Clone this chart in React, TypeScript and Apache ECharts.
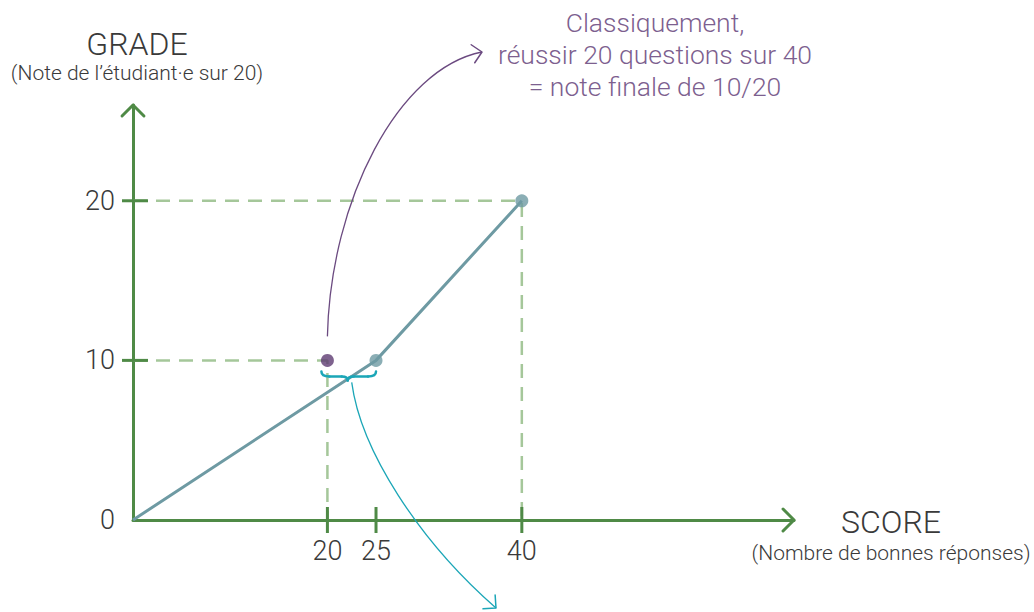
import React, { useEffect, useRef } from "react";
import * as echarts from "echarts";

// ---- data ----
const xTickValues = [20, 25, 40];
const yTickValues = [0, 10, 20];
const gradeCurve = [[0, 0], [25, 10], [40, 20]];
const gradePoints = [[25, 10], [40, 20]];
const classicPoint = [[20, 10]];
const guide20 = [[0, 20], [40, 20], [40, 0]];
const guide10 = [[0, 10], [20, 10], [20, 0]];
const xMax = 68;
const yMax = 26;
const yTitle = "GRADE";
const ySubtitle = "(Note de l\u2019étudiant\u00b7e sur 20)";
const xTitle = "SCORE";
const xSubtitle = "(Nombre de bonnes réponses)";
const noteLines = ["Classiquement,", "réussir 20 questions sur 40", "= note finale de 10/20"];

// ---- styles ----
const GREEN = "#4f8a46";
const GUIDE = "#a5c79a";
const TEAL = "#6e9aa3";
const PURPLE = "#5e3b72";
const PURPLE_LINE = "#6b4a80";
const PURPLE_TEXT = "#7d5f8f";
const CYAN = "#1ba6b7";
const TEXT = "#3a3a3a";
const FONT = "Roboto";

function arrowHead(tip: number[], dir: number[], len: number, color: string, width: number) {
  const n = Math.hypot(dir[0], dir[1]);
  const dx = dir[0] / n, dy = dir[1] / n;
  const a = Math.PI / 4;
  const rot = (t: number) => [dx * Math.cos(t) - dy * Math.sin(t), dx * Math.sin(t) + dy * Math.cos(t)];
  const r1 = rot(a), r2 = rot(-a);
  return {
    type: "polyline",
    shape: {
      points: [
        [tip[0] - len * r1[0], tip[1] - len * r1[1]],
        [tip[0], tip[1]],
        [tip[0] - len * r2[0], tip[1] - len * r2[1]],
      ],
    },
    style: { stroke: color, lineWidth: width, fill: null, lineCap: "round", lineJoin: "round" },
    z: 20,
  };
}

export default function App() {
  const ref = useRef<HTMLDivElement>(null);
  useEffect(() => {
    if (!ref.current) return;
    const chart = echarts.init(ref.current, null, { renderer: "svg" });
    const dashed = (data: number[][]) => ({
      type: "line",
      data,
      symbol: "none",
      lineStyle: { color: GUIDE, width: 2.5, type: [14, 9] },
      z: 1,
      silent: true,
    });
    chart.setOption({
      animation: false,
      grid: { left: 133, top: 105, width: 661, height: 415 },
      xAxis: {
        type: "value",
        min: 0,
        max: xMax,
        interval: 5,
        splitLine: { show: false },
        axisTick: { show: false },
        axisLine: { show: true, lineStyle: { color: GREEN, width: 3 } },
        axisLabel: {
          margin: 17,
          color: TEXT,
          fontFamily: FONT,
          fontWeight: 300,
          fontSize: 27,
          showMaxLabel: false,
          formatter: (v: number) => (xTickValues.includes(v) ? String(v) : ""),
        },
      },
      yAxis: {
        type: "value",
        min: 0,
        max: yMax,
        interval: 10,
        splitLine: { show: false },
        axisTick: { show: false },
        axisLine: { show: true, lineStyle: { color: GREEN, width: 3 } },
        axisLabel: {
          margin: 18,
          color: TEXT,
          fontFamily: FONT,
          fontWeight: 300,
          fontSize: 27,
          showMaxLabel: false,
          formatter: (v: number) => (yTickValues.includes(v) ? String(v) : ""),
        },
      },
      series: [
        dashed(guide20),
        dashed(guide10),
        {
          type: "custom",
          clip: false,
          z: 4,
          data: xTickValues.map((v) => [v, 0]),
          renderItem: (_p: any, api: any) => {
            const p = api.coord([api.value(0), api.value(1)]);
            return {
              type: "line",
              shape: { x1: p[0], y1: p[1] - 13, x2: p[0], y2: p[1] + 13 },
              style: { stroke: GREEN, lineWidth: 3 },
            };
          },
        },
        {
          type: "custom",
          clip: false,
          z: 4,
          data: yTickValues.filter((v) => v > 0).map((v) => [0, v]),
          renderItem: (_p: any, api: any) => {
            const p = api.coord([api.value(0), api.value(1)]);
            return {
              type: "line",
              shape: { x1: p[0] - 11, y1: p[1], x2: p[0] + 15, y2: p[1] },
              style: { stroke: GREEN, lineWidth: 3 },
            };
          },
        },
        {
          type: "line",
          data: gradeCurve,
          symbol: "none",
          lineStyle: { color: TEAL, width: 3 },
          z: 5,
        },
        {
          type: "scatter",
          data: gradePoints,
          symbolSize: 13,
          itemStyle: { color: TEAL },
          z: 6,
        },
        {
          type: "scatter",
          data: classicPoint,
          symbolSize: 13,
          itemStyle: { color: PURPLE },
          z: 6,
        },
      ],
    });

    const px = (v: number[]) => chart.convertToPixel({ gridIndex: 0 }, v) as number[];
    const xEnd = px([xMax, 0]);
    const yEnd = px([0, yMax]);
    const pA = px(classicPoint[0]);
    const pB = px(gradePoints[0]);

    // brace under the two points
    const bl = pA[0] - 6, br = pB[0];
    const bTop = pA[1] + 11, bMid = pA[1] + 16, bTip = pA[1] + 20;
    const bc = (bl + br) / 2 - 1;
    const braceStyle = { stroke: CYAN, lineWidth: 2.5, fill: null, lineCap: "round" };
    const brace = [
      { type: "bezierCurve", shape: { x1: bl, y1: bTop, cpx1: bl, cpy1: bMid, x2: bl + 8, y2: bMid } },
      { type: "line", shape: { x1: bl + 8, y1: bMid, x2: bc - 6, y2: bMid } },
      { type: "bezierCurve", shape: { x1: bc - 6, y1: bMid, cpx1: bc, cpy1: bMid, x2: bc, y2: bTip } },
      { type: "bezierCurve", shape: { x1: bc, y1: bTip, cpx1: bc, cpy1: bMid, x2: bc + 6, y2: bMid } },
      { type: "line", shape: { x1: bc + 6, y1: bMid, x2: br - 8, y2: bMid } },
      { type: "bezierCurve", shape: { x1: br - 8, y1: bMid, cpx1: br, cpy1: bMid, x2: br, y2: bTop } },
    ].map((e) => ({ ...e, style: braceStyle, z: 20 }));

    // purple annotation curve
    const ps = [pA[0], pA[1] - 24];
    const pc1 = [ps[0] + 3, ps[1] - 136];
    const pc2 = [ps[0] + 71, ps[1] - 268];
    const pe = [482, 52];
    // cyan annotation curve
    const cs = [bc + 4, bTip + 2];
    const cc1 = [cs[0] + 9, cs[1] + 68];
    const cc2 = [cs[0] + 67, cs[1] + 158];
    const ce = [496, 608];

    const graphic: any[] = [
      arrowHead([xEnd[0], xEnd[1]], [1, 0], 15.5, GREEN, 3),
      arrowHead([yEnd[0], yEnd[1]], [0, -1], 15.5, GREEN, 3),
      ...brace,
      {
        type: "bezierCurve",
        shape: { x1: ps[0], y1: ps[1], cpx1: pc1[0], cpy1: pc1[1], cpx2: pc2[0], cpy2: pc2[1], x2: pe[0], y2: pe[1] },
        style: { stroke: PURPLE_LINE, lineWidth: 1.3, fill: null },
        z: 20,
      },
      arrowHead(pe, [pe[0] - pc2[0], pe[1] - pc2[1]], 13, PURPLE_LINE, 1.5),
      {
        type: "bezierCurve",
        shape: { x1: cs[0], y1: cs[1], cpx1: cc1[0], cpy1: cc1[1], cpx2: cc2[0], cpy2: cc2[1], x2: ce[0], y2: ce[1] },
        style: { stroke: CYAN, lineWidth: 1.3, fill: null },
        z: 20,
      },
      arrowHead(ce, [ce[0] - cc2[0], ce[1] - cc2[1]], 13, CYAN, 1.5),
      {
        type: "text",
        x: 137,
        y: 44,
        style: { text: yTitle, fill: TEXT, font: `300 32px ${FONT}`, align: "center", verticalAlign: "middle" },
      },
      {
        type: "text",
        x: 137,
        y: 73,
        style: { text: ySubtitle, fill: TEXT, font: `300 21px ${FONT}`, align: "center", verticalAlign: "middle" },
      },
      {
        type: "text",
        x: 891,
        y: 522,
        style: { text: xTitle, fill: TEXT, font: `300 32px ${FONT}`, align: "center", verticalAlign: "middle" },
      },
      {
        type: "text",
        x: 891,
        y: 553,
        style: { text: xSubtitle, fill: TEXT, font: `300 21px ${FONT}`, align: "center", verticalAlign: "middle" },
      },
      ...noteLines.map((t, i) => ({
        type: "text",
        x: 655,
        y: 22 + i * 32,
        style: { text: t, fill: PURPLE_TEXT, font: `300 26.5px ${FONT}`, align: "center", verticalAlign: "middle" },
      })),
    ];
    chart.setOption({ graphic });

    return () => chart.dispose();
  }, []);
  return (
    <div
      ref={ref}
      style={{ position: "absolute", left: 0, top: 0, width: 1034, height: 612, background: "#fff" }}
    />
  );
}
